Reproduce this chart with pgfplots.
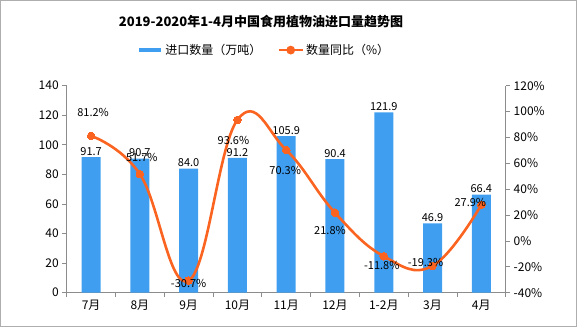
\documentclass[border=0pt]{standalone}
\usepackage{pgfplots}
\pgfplotsset{compat=1.18}
\usepackage{fontspec}
\setmainfont{Noto Sans CJK SC}
\definecolor{barblue}{HTML}{409EF0}
\definecolor{lineorange}{HTML}{FA6420}
\definecolor{axgray}{HTML}{8C8C8C}
\begin{document}
\begin{tikzpicture}[x=1pt,y=1pt]
\path[use as bounding box] (0,0) rectangle (577,327);
\draw[axgray!70, line width=0.8pt] (0.4,0.4) rectangle (576.6,326.6);
\node[font=\bfseries\fontsize{13}{15}\selectfont] at (261,305) {2019-2020年1-4月中国食用植物油进口量趋势图};
\begin{axis}[
  at={(66.7pt,34.3pt)}, anchor=south west,
  scale only axis, width=439pt, height=207pt,
  xmin=-0.5, xmax=8.5, ymin=0, ymax=140,
  axis y line*=left, axis x line*=bottom,
  axis line style={axgray, line width=0.8pt},
  ytick={0,20,...,140},
  xtick={-0.5,0.5,...,8.5}, xticklabels={},
  extra x ticks={0,1,...,8},
  extra x tick labels={7月,8月,9月,10月,11月,12月,1-2月,3月,4月},
  extra x tick style={major tick length=0pt},
  tick align=outside, major tick length=4.5pt,
  tick style={axgray, line width=0.8pt},
  ticklabel style={font=\fontsize{12}{14}\selectfont},
  /pgf/number format/assume math mode=true,
  xticklabel style={yshift=-4pt},
  ybar, bar width=19pt,
  nodes near coords={\pgfmathprintnumber[fixed,fixed zerofill,precision=1]{\pgfplotspointmeta}},
  every node near coord/.append style={font=\fontsize{11}{13}\selectfont, inner sep=1.5pt, /pgf/number format/assume math mode=true},
  clip=false,
]
\addplot[fill=barblue, draw=none] coordinates {
(0,91.7) (1,90.7) (2,84.0) (3,91.2) (4,105.9) (5,90.4) (6,121.9) (7,46.9) (8,66.4)};
\end{axis}
\begin{axis}[
  at={(66.7pt,34.3pt)}, anchor=south west,
  scale only axis, width=439pt, height=207pt,
  xmin=-0.5, xmax=8.5, ymin=-40, ymax=120,
  axis y line*=right, axis x line=none,
  axis line style={axgray, line width=0.8pt},
  ytick={-40,-20,...,120},
  yticklabel={\pgfmathprintnumber{\tick}\%},
  tick align=outside, major tick length=4.5pt,
  tick style={axgray, line width=0.8pt},
  ticklabel style={font=\fontsize{12}{14}\selectfont},
  /pgf/number format/assume math mode=true,
  clip=false,
  legend style={at={(0.45,1.172)}, anchor=center, draw=none, fill=none,
    legend columns=2, font=\fontsize{12}{14}\selectfont,
    /tikz/every even column/.append style={column sep=14pt}},
]
\addlegendimage{legend image code/.code={\draw[barblue, line width=4pt] (0pt,0pt) -- (22pt,0pt);}}
\addlegendentry{进口数量（万吨）}
\addplot[lineorange, line width=2.6pt, smooth, tension=0.7, mark=*, mark size=3.8pt,
  mark options={fill=lineorange, draw=lineorange, line width=0pt},
  legend image code/.code={\draw[lineorange, line width=2.6pt] (0pt,0pt) -- (24pt,0pt); \fill[lineorange] (12pt,0pt) circle (3pt);}]
  coordinates {(0,81.2) (1,51.7) (2,-30.7) (3,93.6) (4,70.3) (5,21.8) (6,-11.8) (7,-19.3) (8,27.9)};
\addlegendentry{数量同比（\%）}
\addplot[draw=none, mark=none, forget plot,
  nodes near coords, point meta=explicit symbolic,
  visualization depends on={\thisrow{dx}\as\dx},
  visualization depends on={\thisrow{dy}\as\dy},
  every node near coord/.append style={anchor=center, xshift=\dx pt, yshift=\dy pt, font=\fontsize{11}{13}\selectfont, inner sep=0pt}]
  table[meta=lab] {
x y dx dy lab
0 81.2 2 23 81.2\%
1 51.7 2 17 51.7\%
2 -30.7 0 -3 -30.7\%
3 93.6 -4 -21 93.6\%
4 70.3 -1 -20 70.3\%
5 21.8 -5 -18 21.8\%
6 -11.8 -2 -9 -11.8\%
7 -19.3 -7 3 -19.3\%
8 27.9 -11 2 27.9\%
};
\end{axis}
\end{tikzpicture}
\end{document}
